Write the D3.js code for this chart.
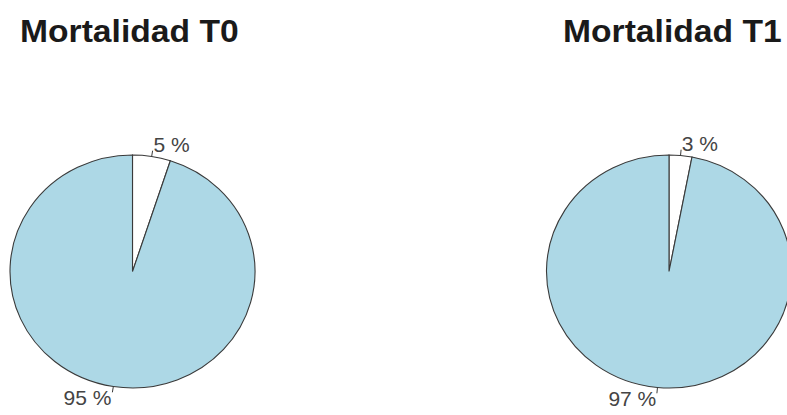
<!DOCTYPE html>
<html>
<head>
<meta charset="utf-8">
<script src="https://cdn.jsdelivr.net/npm/d3@7"></script>
<style>
  html, body { margin: 0; padding: 0; background: #ffffff; }
  svg { display: block; }
</style>
</head>
<body>
<svg id="chart" width="787" height="415"></svg>
<script>
// Mortality share at two time points (percent)
const titles = ["Mortalidad T0", "Mortalidad T1"];
const valuesT0 = [5, 95];
const valuesT1 = [3, 97];
const sliceColors = ["#ffffff", "#add8e6"];

const W = 787, H = 415;
const svg = d3.select("#chart");

// pie geometry (slightly wider than tall)
const rx = 122.5, ry = 116.5;
const stretch = rx / ry;
const centers = [[132.5, 271.5], [669, 271.5]];
const titleX = [20, 563];

const pie = d3.pie().sort(null).startAngle(0).endAngle(2 * Math.PI);
const arc = d3.arc().innerRadius(0).outerRadius(ry);

const panelData = [valuesT0, valuesT1];

panelData.forEach((vals, i) => {
  const [cx, cy] = centers[i];
  const g = svg.append("g");

  g.append("text")
    .attr("transform", `translate(${titleX[i]},42) scale(${stretch},1)`)
    .attr("font-family", "Liberation Sans, Arial, sans-serif")
    .attr("font-weight", "bold")
    .attr("font-size", 32)
    .attr("fill", "#1a1a1a")
    .text(titles[i]);

  const arcs = pie(vals);

  g.append("g")
    .attr("transform", `translate(${cx},${cy}) scale(${stretch},1)`)
    .selectAll("path")
    .data(arcs)
    .join("path")
    .attr("d", arc)
    .attr("fill", (d, j) => sliceColors[j])
    .attr("stroke", "#3a3a3a")
    .attr("stroke-width", 1.1)
    .attr("vector-effect", "non-scaling-stroke");

  const total = d3.sum(vals);
  arcs.forEach(d => {
    const mid = (d.startAngle + d.endAngle) / 2;
    const sx = Math.sin(mid), sy = -Math.cos(mid);
    g.append("line")
      .attr("x1", cx + rx * sx).attr("y1", cy + ry * sy)
      .attr("x2", cx + 1.05 * rx * sx).attr("y2", cy + 1.05 * ry * sy)
      .attr("stroke", "#3a3a3a").attr("stroke-width", 1);
    const lx = cx + 1.1 * rx * sx, ly = cy + 1.1 * ry * sy;
    g.append("text")
      .attr("transform", `translate(${lx},${ly}) scale(${stretch},1)`)
      .attr("text-anchor", sx < 0 ? "end" : "start")
      .attr("dominant-baseline", "central")
      .attr("font-family", "Liberation Sans, Arial, sans-serif")
      .attr("font-size", 20)
      .attr("fill", "#444")
      .text(Math.round(d.data / total * 100) + " %");
  });
});
</script>
</body>
</html>
